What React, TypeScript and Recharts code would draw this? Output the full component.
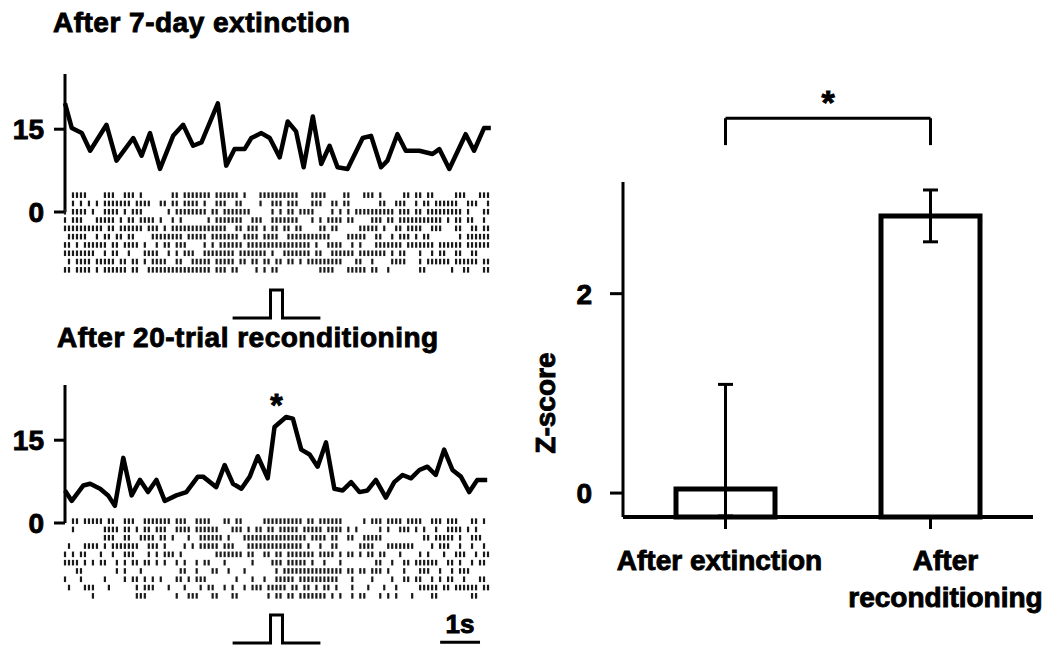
import React from 'react';
import {
  LineChart,
  Line,
  ScatterChart,
  Scatter,
  BarChart,
  Bar,
  ErrorBar,
  XAxis,
  YAxis,
  ReferenceLine,
  ReferenceDot,
  Label,
} from 'recharts';

// trial window in seconds (tone arrives around 5.15 s)
const TIME_END = 10.7;

// peri-stimulus firing rate, spikes/s
const EXT_T = [0, 0.17, 0.42, 0.63, 1.04, 1.29, 1.71, 1.92, 2.13, 2.38, 2.71, 2.96, 3.21, 3.42, 3.83, 4.04, 4.25, 4.5, 4.67, 4.92, 5.13, 5.38, 5.58, 5.79, 5.98, 6.21, 6.42, 6.63, 6.83, 7.08, 7.46, 7.67, 7.92, 8.08, 8.33, 8.54, 8.88, 9.21, 9.38, 9.63, 10.04, 10.25, 10.5, 10.67];
const EXT_RATE = [19.7, 15.2, 14.3, 11.1, 15.8, 9.3, 13.4, 10.2, 14.3, 7.8, 13.8, 15.8, 12.0, 12.6, 19.7, 8.4, 11.4, 11.4, 13.4, 14.3, 13.4, 9.9, 16.4, 14.6, 8.1, 17.3, 8.7, 12.0, 8.1, 7.8, 13.4, 13.8, 8.1, 9.3, 14.1, 11.1, 11.1, 10.5, 11.4, 7.8, 14.1, 11.1, 15.2, 15.2];

const RECOND_T = [0, 0.17, 0.46, 0.63, 0.88, 1.08, 1.25, 1.46, 1.67, 1.88, 2.08, 2.29, 2.5, 2.79, 3.04, 3.33, 3.46, 3.79, 4.0, 4.21, 4.42, 4.63, 4.83, 5.08, 5.25, 5.54, 5.71, 5.92, 6.13, 6.33, 6.54, 6.75, 6.96, 7.17, 7.38, 7.58, 7.79, 8.04, 8.25, 8.46, 8.67, 8.88, 9.08, 9.29, 9.5, 9.71, 9.92, 10.13, 10.33, 10.58];
const RECOND_RATE = [5.9, 4.0, 6.8, 7.1, 6.2, 5.0, 3.1, 11.8, 5.0, 7.8, 5.6, 7.8, 4.0, 5.0, 5.6, 8.4, 8.4, 6.5, 10.5, 7.1, 6.2, 8.4, 12.1, 8.1, 17.4, 19.2, 18.9, 13.3, 12.4, 10.2, 14.6, 6.2, 5.9, 7.4, 5.6, 5.9, 7.8, 4.6, 7.4, 8.7, 8.1, 9.6, 10.2, 8.7, 13.3, 9.6, 8.4, 5.6, 7.8, 7.8];

const RATE_TICKS = [0, 15];

// tone trace under each raster
const TONE_T = [4.2, 5.15, 5.15, 5.45, 5.45, 6.4];
const TONE_ON = [0, 0, 1, 1, 0, 0];

// spike rasters: one string per trial, 0.1 s bins, "a-b" = run of bins
const BIN_S = 0.1;
const EXT_RASTER = [
  '2-5 10-12 15-17 19 27 28 30-36 38-43 45 49-58 62-65 70 71 75-77 79 85 86 88 89 91 92 98-100 104-106',
  '2 4 6 8 10-16 18-21 24 25 27 28 30-33 35 38-40 43 44 49 52-54 56-58 62-64 67 68 70 71 79 80 83-85 88 90 91 93-98 101-103 106',
  '0 2-5 7 10-13 15 17-19 26 28-35 37 38 40-46 52 54 56 57 59-62 67 69 71 73-82 84-86 88 89 91-99 101 105 106',
  '0 2-4 8-12 14 16 17 19-22 24 27 29 36 38-44 47-49 52-58 62 64 66-69 71 72 77-79 81 82 84-94 96 98 99 101 102 105',
  '0-9 11 12 14-19 21-23 25 27-40 43 44 46-48 50 52 53 55 56 58 59 64 65 67 68 74-78 80 83 84 86-89 92-94 98 99 102 103 105 106',
  '1-5 8 10 11 13 14 16 17 22-29 31-35 37-43 45-48 50-53 56-66 71-75 78 79 82 84-86 88 90 91 99 101-106',
  '0 1 3 5-10 12 13 15-18 20 23 25 26 28-30 35 37 39-44 46-61 63 66-69 72 74 78-84 86-92 94-99 101-106',
  '0-7 10 12 13 16 20-23 26 28 30-32 35-42 44-50 52 55-61 63 64 67-72 74-80 82 84 85 89 92 94 95 98 99 102 103',
  '1 3-6 8-12 14 15 17 18 20 22-25 28 29 32-36 38-42 44 45 47 48 50 51 53 54 56 57 59 61-69 73 74 77 82-85 89 91-96 98-103 105 106',
  '0 1 3-6 8 10-15 17 18 21-36 38-40 42 43 48 50 52 53 64-67 71-75 77 78 81 89 90 97 100 101 105 106',
];
const RECOND_RASTER = [
  '2 3 5-9 11 12 15-17 20-26 28-30 33-36 40 41 43 44 50-59 61 62 64-69 75 77-79 81-84 86-89 92-94 96-98 102 103 105',
  '2 10-13 15 16 18 20 21 23-25 28-31 33-38 42-44 46 48 49 51 52 54-58 60-64 66-69 71 73 79 81 84-86 88 90 93 96-99 101 103',
  '10-12 15 16 19-22 24 25 27 31 34-39 41 45-60 62-65 67 68 71 72 75-79 90 91 93-97 99 102-104',
  '1 5-8 10 12-18 21-23 25 30 32 34-38 40-42 46-59 61 64 67 68 74-77 81-87 92 94-96 99 102 105',
  '0 2 4 5 9 12 15-17 21 23 25-27 29 38-44 46 47 50 51 53 54 56-62 64-67 69 71 72 74 76 77 79 80 84 89 91 95 98-100 103 105 106',
  '0-3 5 7 9 10 13 15 17 18 20 21 23 25 28 30 33 35 36 40 47 52-54 56-60 62 65 69 78 79 82 85 86 88-93 96 97 99 102 104 105',
  '3 4 13 15 19 29 30 33 37 38 41 45 53 55-69 71 72 74 75 77-79 81 85 89-91 94 97 99-101',
  '0 4 10 15 17 18 20 22 24 28 29 31 33-35 43 47 50 53-57 59-68 72 77 82 85 86 88 89 92 94 96 97 100 104 105',
  '1 5-7 11 18 20-22 26 30 34 36 37 40 42 45 47-49 51-55 57 58 60 61 63 65 66 68 72 76 80 83 89-93 95 96 98-103 105 106',
  '7 18-20 28 31-33 37 38 42 43 51 53 54 56 57 59-65 67 69 72 74 75 79 81 83 87 92 93 102 103',
];

// tone-evoked response, z-score (mean, SEM)
const GROUPS = ['After extinction', 'After\nreconditioning'];
const Z_MEAN = [0.04, 2.78];
const Z_ERR_DOWN = [0.27, 0.26];
const Z_ERR_UP = [1.05, 0.26];
const Z_TICKS = [0, 2];
const Z_MIN = -0.24;
const Z_MAX = 3.12;

const FONT = '"Liberation Sans", Arial, Helvetica, sans-serif';
const INK = '#000';
// heavy lettering: bold face plus a thin outline
const HEAVY = { fontSize: 28, fontWeight: 700, fontFamily: FONT, fill: INK, stroke: INK, strokeWidth: 0.9 };

const toSpikes = (rows: string[]) =>
  rows.flatMap((row, r) =>
    row.split(' ').flatMap((tok) => {
      const [a, b = a] = tok.split('-').map(Number);
      const out: { t: number; trial: number }[] = [];
      for (let i = a; i <= b; i++) out.push({ t: i * BIN_S, trial: r + 1 });
      return out;
    })
  );

const SpikeTick = (props: any) => (
  <rect x={props.cx - 1.1} y={props.cy - 2.8} width={2.2} height={5.6} fill="#1a1a1a" />
);

const toneData = TONE_T.map((t, i) => ({ t, v: TONE_ON[i] }));

type PanelProps = {
  title: string;
  titleTop: number;
  titleLeft: number;
  rateTop: number;
  rasterTop: number;
  toneTop: number;
  times: number[];
  rates: number[];
  raster: string[];
  starAt?: number;
  scaleBar?: boolean;
};

const TrialPanel: React.FC<PanelProps> = ({
  title, titleTop, titleLeft, rateTop, rasterTop, toneTop, times, rates, raster, starAt, scaleBar,
}) => {
  const rateData = times.map((t, i) => ({ t, rate: rates[i] }));
  const spikes = toSpikes(raster);
  const toneMarginTop = scaleBar ? 15 : 3;

  return (
    <>
      <div
        style={{
          position: 'absolute', left: titleLeft, top: titleTop, fontSize: 28,
          lineHeight: '28px', whiteSpace: 'nowrap', color: INK, letterSpacing: 0.5,
          WebkitTextStroke: '0.9px #000',
        }}
      >
        {title}
      </div>

      <div style={{ position: 'absolute', left: 0, top: rateTop }}>
        <LineChart width={500} height={170} data={rateData} margin={{ top: 14, right: 8, bottom: 18, left: 0 }}>
          <XAxis type="number" dataKey="t" domain={[0, TIME_END]} hide />
          <YAxis
            domain={[0, 25]}
            ticks={RATE_TICKS}
            interval={0}
            width={65}
            axisLine={{ stroke: INK, strokeWidth: 3 }}
            tickLine={{ stroke: INK, strokeWidth: 3 }}
            tickSize={11}
            tickMargin={10}
            tick={HEAVY}
          />
          <Line
            dataKey="rate"
            type="linear"
            stroke={INK}
            strokeWidth={4.5}
            strokeLinejoin="round"
            dot={false}
            isAnimationActive={false}
          />
          {starAt !== undefined && (
            <ReferenceDot
              x={starAt}
              y={21.5}
              r={0}
              fill="none"
              stroke="none"
              label={{ value: '*', position: 'center', ...HEAVY, fontSize: 32 }}
            />
          )}
        </LineChart>
      </div>

      <div style={{ position: 'absolute', left: 0, top: rasterTop }}>
        <ScatterChart width={500} height={83} margin={{ top: 0, right: 8, bottom: 0, left: 65 }}>
          <XAxis type="number" dataKey="t" domain={[0, TIME_END]} hide />
          <YAxis type="number" dataKey="trial" domain={[0.5, 10.5]} reversed hide />
          <Scatter data={spikes} shape={SpikeTick} isAnimationActive={false} />
        </ScatterChart>
      </div>

      <div style={{ position: 'absolute', left: 0, top: toneTop - toneMarginTop }}>
        <LineChart
          width={500}
          height={28 + toneMarginTop + 3}
          data={toneData}
          margin={{ top: toneMarginTop, right: 8, bottom: 3, left: 65 }}
        >
          <XAxis type="number" dataKey="t" domain={[0, TIME_END]} hide />
          <YAxis domain={[0, 1]} hide />
          <Line dataKey="v" type="linear" stroke={INK} strokeWidth={3} dot={false} isAnimationActive={false} />
          {scaleBar && (
            <ReferenceLine
              segment={[{ x: 9.4, y: 0.03 }, { x: 10.4, y: 0.03 }]}
              stroke={INK}
              strokeWidth={3}
              ifOverflow="visible"
              label={{ value: '1s', position: 'top', offset: 9, ...HEAVY, fontSize: 26 }}
            />
          )}
        </LineChart>
      </div>
    </>
  );
};

const LABEL_SHIFT = [-6, 15];

const GroupTick = ({ x, y, payload, index }: any) => (
  <g>
    {String(payload.value).split('\n').map((line, k) => (
      <text
        key={k}
        x={x + LABEL_SHIFT[index]}
        y={y + 39 + k * 37}
        textAnchor="middle"
        {...HEAVY}
      >
        {line}
      </text>
    ))}
  </g>
);

const ZLabel = ({ viewBox }: any) => {
  const cx = viewBox.x + 15;
  const cy = viewBox.y + viewBox.height * 0.66;
  return (
    <text
      transform={`translate(${cx} ${cy}) rotate(-90)`}
      textAnchor="middle"
      dominantBaseline="central"
      {...HEAVY}
    >
      Z-score
    </text>
  );
};

const BRACKET_TOP = 3.76;
const BRACKET_FOOT = 3.49;

const ZScoreChart: React.FC = () => {
  const data = GROUPS.map((group, i) => ({
    group,
    z: Z_MEAN[i],
    err: [Z_ERR_DOWN[i], Z_ERR_UP[i]],
  }));
  const bracketStyle = { stroke: INK, strokeWidth: 3, ifOverflow: 'visible' as const };

  return (
    <BarChart width={523} height={586} data={data} margin={{ top: 122, right: 20, bottom: 29, left: 0 }}>
      <XAxis
        dataKey="group"
        height={100}
        interval={0}
        axisLine={{ stroke: INK, strokeWidth: 4 }}
        tickLine={{ stroke: INK, strokeWidth: 3 }}
        tickSize={12}
        tick={<GroupTick />}
      />
      <YAxis
        domain={[Z_MIN, Z_MAX]}
        ticks={Z_TICKS}
        interval={0}
        width={93}
        axisLine={{ stroke: INK, strokeWidth: 3 }}
        tickLine={{ stroke: INK, strokeWidth: 3 }}
        tickSize={13}
        tickMargin={18}
        tick={HEAVY}
      >
        <Label content={ZLabel} />
      </YAxis>
      <Bar
        dataKey={(d: any) => [Z_MIN, d.z]}
        fill="#fff"
        stroke={INK}
        strokeWidth={5}
        barSize={99}
        isAnimationActive={false}
      >
        <ErrorBar dataKey="err" width={7.5} stroke={INK} strokeWidth={3} direction="y" isAnimationActive={false} />
      </Bar>
      <ReferenceLine
        segment={[{ x: GROUPS[0], y: BRACKET_TOP }, { x: GROUPS[1], y: BRACKET_TOP }]}
        {...bracketStyle}
        label={{ value: '*', position: 'top', offset: 4, ...HEAVY, fontSize: 34 }}
      />
      <ReferenceLine segment={[{ x: GROUPS[0], y: BRACKET_TOP }, { x: GROUPS[0], y: BRACKET_FOOT }]} {...bracketStyle} />
      <ReferenceLine segment={[{ x: GROUPS[1], y: BRACKET_TOP }, { x: GROUPS[1], y: BRACKET_FOOT }]} {...bracketStyle} />
    </BarChart>
  );
};

export default function App() {
  return (
    <div
      style={{
        position: 'absolute', left: 0, top: 0, width: 1053, height: 646, overflow: 'hidden',
        background: '#fff', fontFamily: FONT, fontWeight: 700,
      }}
    >
      <TrialPanel
        title="After 7-day extinction"
        titleTop={9}
        titleLeft={53}
        rateTop={60}
        rasterTop={191}
        toneTop={290}
        times={EXT_T}
        rates={EXT_RATE}
        raster={EXT_RASTER}
      />
      <TrialPanel
        title="After 20-trial reconditioning"
        titleTop={324}
        titleLeft={57}
        rateTop={371}
        rasterTop={517}
        toneTop={615}
        times={RECOND_T}
        rates={RECOND_RATE}
        raster={RECOND_RASTER}
        starAt={5.3}
        scaleBar
      />
      <div style={{ position: 'absolute', left: 530, top: 60 }}>
        <ZScoreChart />
      </div>
    </div>
  );
}
